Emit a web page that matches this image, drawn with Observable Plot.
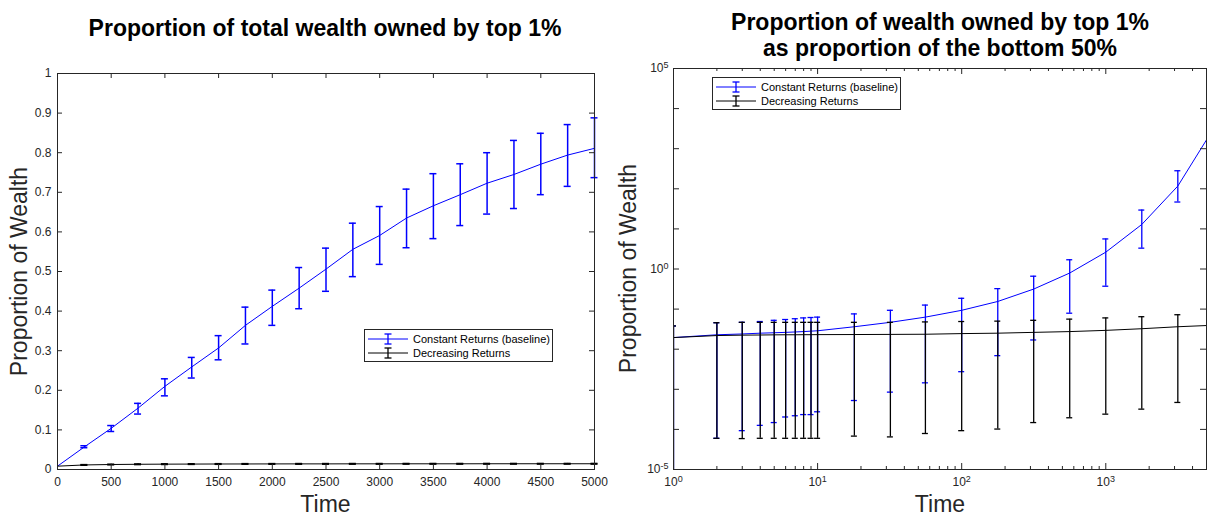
<!DOCTYPE html>
<html><head><meta charset="utf-8">
<script src="https://cdn.jsdelivr.net/npm/d3@7"></script>
<script src="https://cdn.jsdelivr.net/npm/@observablehq/plot@0.6"></script>
<style>
body{margin:0;background:#fff;font-family:"Liberation Sans",Arial,Helvetica,sans-serif;}
#wrap{position:relative;width:1207px;height:517px;overflow:hidden;background:#fff;}
.abs{position:absolute;}
.title{font-weight:bold;font-size:23px;color:#000;text-align:center;line-height:26px;white-space:nowrap;}
.ylab{font-size:23px;color:#262626;white-space:nowrap;transform-origin:center center;}
.xlab{font-size:23px;color:#262626;text-align:center;}
.legend{border:1px solid #262626;background:#fff;font-size:11px;color:#000;box-sizing:border-box;width:189px;height:33px;padding:2px 0 0 2px;}
.legend .row{display:flex;align-items:center;height:14px;}
.legend svg{margin-right:5px;}
</style></head><body><div id="wrap"></div>
<script>
// ---------- Left panel data (linear) ----------
const tL = [0,250,500,750,1000,1250,1500,1750,2000,2250,2500,2750,3000,3250,3500,3750,4000,4250,4500,4750,5000];
const blueL   = [0.0084,0.057,0.104,0.155,0.21,0.259,0.307,0.364,0.412,0.458,0.506,0.556,0.591,0.635,0.666,0.694,0.723,0.745,0.771,0.794,0.811];
const blueLoL = [null,0.055,0.096,0.14,0.186,0.231,0.277,0.317,0.364,0.406,0.45,0.487,0.518,0.56,0.583,0.616,0.645,0.659,0.694,0.715,0.737];
const blueHiL = [null,0.06,0.111,0.167,0.229,0.283,0.338,0.41,0.453,0.51,0.559,0.622,0.664,0.708,0.747,0.772,0.8,0.831,0.849,0.871,0.888];
const blackL   = [0.0084,0.0115,0.0126,0.0132,0.0135,0.0137,0.0139,0.014,0.0141,0.0142,0.0142,0.0143,0.0143,0.0144,0.0144,0.0144,0.0145,0.0145,0.0145,0.0145,0.0145];
const blackLoL = [null,0.0107,0.0118,0.0124,0.0127,0.0129,0.0131,0.0132,0.0133,0.0134,0.0134,0.0135,0.0135,0.0136,0.0136,0.0136,0.0137,0.0137,0.0137,0.0137,0.0137];
const blackHiL = [null,0.0123,0.0134,0.014,0.0143,0.0145,0.0147,0.0148,0.0149,0.015,0.015,0.0151,0.0151,0.0152,0.0152,0.0152,0.0153,0.0153,0.0153,0.0153,0.0153];
const xTicksL = [0,500,1000,1500,2000,2500,3000,3500,4000,4500,5000];
const yTicksL = [0,0.1,0.2,0.3,0.4,0.5,0.6,0.7,0.8,0.9,1];

// ---------- Right panel data (log-log) ----------
const tR = [1,2,3,4,5,6,7,8,9,10,18,32,56,100,178,316,562,1000,1778,3162,5000];
const blueR   = [0.0195,0.0229,0.024,0.0251,0.0257,0.0263,0.0269,0.0275,0.0282,0.0288,0.0363,0.0468,0.0631,0.0933,0.155,0.316,0.794,2.63,12.9,117,1660];
const blueHiR = [0.038,0.0457,0.0468,0.049,0.0525,0.055,0.0575,0.0603,0.0617,0.0631,0.0759,0.0933,0.126,0.186,0.324,0.661,1.70,5.62,29.5,282,null];
const blueLoR = [1e-6,6.0e-5,9.3e-5,1.26e-4,1.48e-4,2.04e-4,2.19e-4,2.34e-4,2.34e-4,2.75e-4,5.25e-4,8.5e-4,1.45e-3,2.75e-3,6.9e-3,0.017,0.079,0.372,3.31,46.8,null];
const blackR   = [0.0195,0.0219,0.0224,0.0226,0.0228,0.0229,0.0229,0.023,0.023,0.0231,0.0232,0.0234,0.0236,0.0245,0.0251,0.0263,0.0275,0.0295,0.0324,0.0363,0.0389];
const blackHiR = [0.038,0.0457,0.0468,0.0468,0.0468,0.0468,0.0468,0.0468,0.0468,0.0468,0.0468,0.0468,0.0479,0.049,0.0501,0.0525,0.0562,0.0603,0.0646,0.0724,null];
const blackLoR = [1e-6,6.0e-5,5.9e-5,6.0e-5,6.0e-5,6.0e-5,6.0e-5,6.0e-5,6.0e-5,6.0e-5,6.8e-5,6.5e-5,7.9e-5,9.3e-5,1.02e-4,1.48e-4,1.95e-4,2.4e-4,3.2e-4,4.7e-4,null];
const xMajorR = [1,10,100,1000];
const xMajorExpR = ["0","1","2","3"];
const xMinorR = [2,3,4,5,6,7,8,9,20,30,40,50,60,70,80,90,200,300,400,500,600,700,800,900,2000,3000,4000,5000];
const yTicksR = [1e-5,1e-4,1e-3,1e-2,1e-1,1,10,100,1000,1e4,1e5];
const yLabelValR = [1e-5,1,1e5];
const yLabelExpR = ["-5","0","5"];

const titleL = "Proportion of total wealth owned by top 1%";
const titleR = ["Proportion of wealth owned by top 1%","as proportion of the bottom 50%"];
const seriesNames = ["Constant Returns (baseline)","Decreasing Returns"];
const yLabel = "Proportion of Wealth";
const xLabel = "Time";

const BLUE = "#0000ff", BLACK = "#000000", AX = "#262626";
const wrap = document.getElementById("wrap");
const fontFamily = "'Liberation Sans', Arial, Helvetica, sans-serif";

function errMarks(data, x, lo, hi, color, capHalf, sw, extra = {}) {
  const d = data.filter(r => r[lo] != null);
  return [
    Plot.ruleX(d, {x, y1: lo, y2: hi, stroke: color, strokeWidth: sw, ...extra}),
    Plot.ruleY(d, {y: lo, x1: x, x2: x, insetLeft: -capHalf, insetRight: -capHalf, stroke: color, strokeWidth: sw, ...extra}),
    Plot.ruleY(d, {y: hi, x1: x, x2: x, insetLeft: -capHalf, insetRight: -capHalf, stroke: color, strokeWidth: sw, ...extra})
  ];
}

// ---------- Left plot ----------
{
  const W = 600, H = 517, mt = 73, mb = 48, ml = 57, mr = 6;
  const pw = W - ml - mr, ph = H - mt - mb, tk = 5;
  const data = tL.map((t, i) => ({t, b: blueL[i], bLo: blueLoL[i], bHi: blueHiL[i], k: blackL[i], kLo: blackLoL[i], kHi: blackHiL[i]}));
  const svg = Plot.plot({
    width: W, height: H, marginTop: mt, marginBottom: mb, marginLeft: ml, marginRight: mr,
    style: {fontFamily, fontSize: "12px", color: AX, background: "transparent", overflow: "visible"},
    x: {type: "linear", domain: [0, 5000]},
    y: {type: "linear", domain: [0, 1]},
    marks: [
      Plot.line(data, {x: "t", y: "b", stroke: BLUE, strokeWidth: 1}),
      ...errMarks(data, "t", "bLo", "bHi", BLUE, 3.5, 1.5),
      Plot.line(data, {x: "t", y: "k", stroke: BLACK, strokeWidth: 1}),
      ...errMarks(data, "t", "kLo", "kHi", BLACK, 3.5, 1.5),
      Plot.ruleX(xTicksL, {x: d => d, insetTop: ph - tk, stroke: AX}),
      Plot.ruleX(xTicksL, {x: d => d, insetBottom: ph - tk, stroke: AX}),
      Plot.ruleY(yTicksL, {y: d => d, insetRight: pw - tk, stroke: AX}),
      Plot.ruleY(yTicksL, {y: d => d, insetLeft: pw - tk, stroke: AX}),
      Plot.frame({stroke: AX, strokeWidth: 1}),
      Plot.axisX(xTicksL, {tickSize: 0, tickPadding: 8, label: null, tickFormat: d => String(d)}),
      Plot.axisY(yTicksL, {tickSize: 0, tickPadding: 6, label: null, tickFormat: d => String(d)})
    ]
  });
  svg.style.position = "absolute"; svg.style.left = "0px"; svg.style.top = "0px";
  wrap.appendChild(svg);
}

// ---------- Right plot ----------
{
  const W = 607, H = 517, mt = 68, mb = 48, ml = 73, mr = 1;
  const pw = W - ml - mr, ph = H - mt - mb, tk = 6, tkm = 3;
  const data = tR.map((t, i) => ({t, b: blueR[i], bLo: blueLoR[i], bHi: blueHiR[i], k: blackR[i], kLo: blackLoR[i], kHi: blackHiR[i]}));
  const svg = Plot.plot({
    width: W, height: H, marginTop: mt, marginBottom: mb, marginLeft: ml, marginRight: mr,
    style: {fontFamily, fontSize: "12px", color: AX, background: "transparent", overflow: "visible"},
    x: {type: "log", domain: [1, 5000]},
    y: {type: "log", domain: [1e-5, 1e5]},
    marks: [
      Plot.line(data, {x: "t", y: "b", stroke: BLUE, strokeWidth: 1, clip: true}),
      ...errMarks(data, "t", "bLo", "bHi", BLUE, 3, 1.3, {clip: true}),
      Plot.line(data, {x: "t", y: "k", stroke: BLACK, strokeWidth: 1, clip: true}),
      ...errMarks(data, "t", "kLo", "kHi", BLACK, 3, 1.3, {clip: true}),
      Plot.ruleX(xMajorR, {x: d => d, insetTop: ph - tk, stroke: AX}),
      Plot.ruleX(xMajorR, {x: d => d, insetBottom: ph - tk, stroke: AX}),
      Plot.ruleX(xMinorR, {x: d => d, insetTop: ph - tkm, stroke: AX}),
      Plot.ruleX(xMinorR, {x: d => d, insetBottom: ph - tkm, stroke: AX}),
      Plot.ruleY(yTicksR, {y: d => d, insetRight: pw - tk, stroke: AX}),
      Plot.ruleY(yTicksR, {y: d => d, insetLeft: pw - tk, stroke: AX}),
      Plot.frame({stroke: AX, strokeWidth: 1}),
      Plot.axisX(xMajorR, {tickSize: 0, tickPadding: 8, label: null, tickFormat: d => "10^" + xMajorExpR[xMajorR.indexOf(d)]}),
      Plot.axisY(yLabelValR, {tickSize: 0, tickPadding: 5, label: null, tickFormat: d => "10^" + yLabelExpR[yLabelValR.indexOf(d)]})
    ]
  });
  // render "10^e" labels as base + superscript tspans
  svg.querySelectorAll("text").forEach(t => {
    const m = /^10\^(.+)$/.exec(t.textContent);
    if (!m) return;
    t.textContent = "";
    const ns = "http://www.w3.org/2000/svg";
    const base = document.createElementNS(ns, "tspan"); base.textContent = "10";
    const sup = document.createElementNS(ns, "tspan"); sup.textContent = m[1];
    sup.setAttribute("dy", "-0.45em"); sup.setAttribute("font-size", "9px");
    t.appendChild(base); t.appendChild(sup);
  });
  svg.style.position = "absolute"; svg.style.left = "600px"; svg.style.top = "0px";
  wrap.appendChild(svg);
}

// ---------- Text overlays ----------
function div(cls, html, css) {
  const e = document.createElement("div");
  e.className = "abs " + cls; e.innerHTML = html;
  Object.assign(e.style, css); wrap.appendChild(e); return e;
}
div("title", titleL, {left: "0px", width: "650px", top: "15px"});
div("title", titleR.join("<br>"), {left: "673px", width: "534px", top: "9px"});
div("xlab", xLabel, {left: "57px", width: "537px", top: "491px"});
div("xlab", xLabel, {left: "673px", width: "534px", top: "491px"});
for (const [cx, cy] of [[19, 271], [628, 268]]) {
  const e = div("ylab", yLabel, {left: "0px", top: "0px"});
  const w = e.offsetWidth, h = e.offsetHeight;
  e.style.left = (cx - w / 2) + "px"; e.style.top = (cy - h / 2) + "px";
  e.style.transform = "rotate(-90deg)";
}
function legendSym(color) {
  return `<svg width="41" height="14"><line x1="1" x2="41" y1="7" y2="7" stroke="${color}" stroke-width="1"/>` +
    `<line x1="21" x2="21" y1="2" y2="12" stroke="${color}" stroke-width="1.3"/>` +
    `<line x1="17.5" x2="24.5" y1="2" y2="2" stroke="${color}" stroke-width="1.3"/>` +
    `<line x1="17.5" x2="24.5" y1="12" y2="12" stroke="${color}" stroke-width="1.3"/></svg>`;
}
const legHTML = `<div class="row">${legendSym(BLUE)}<span>${seriesNames[0]}</span></div>` +
                `<div class="row">${legendSym(BLACK)}<span>${seriesNames[1]}</span></div>`;
div("legend", legHTML, {left: "364px", top: "329px"});
div("legend", legHTML, {left: "712px", top: "77px"});
</script></body></html>
